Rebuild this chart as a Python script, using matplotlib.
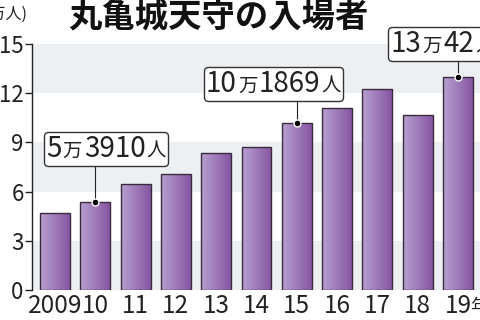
import matplotlib
matplotlib.use("Agg")
import matplotlib.pyplot as plt
import numpy as np
from matplotlib.colors import LinearSegmentedColormap
from matplotlib.offsetbox import TextArea, HPacker, AnnotationBbox

plt.rcParams['font.family'] = ['Noto Sans CJK JP', 'DejaVu Sans']

years = ["2009", "10", "11", "12", "13", "14", "15", "16", "17", "18", "19"]
visitors = [4.68, 5.391, 6.48, 7.1, 8.35, 8.75, 10.1869, 11.07, 12.28, 10.7, 13.0042]
yticks = [0, 3, 6, 9, 12, 15]
callouts = [  # (index, big1, small1, big2, small2, box x, box y)
    (1, "5", "万", "3910", "人", 1.27, 8.6),
    (6, "10", "万", "1869", "人", 5.42, 12.56),
    (10, "13", "万", "42", "人", 9.62, 15.0),
]
title = "丸亀城天守の入場者"
unit = "(万人)"

fig = plt.figure(figsize=(4.8, 3.2), dpi=100)
ax = fig.add_axes([32/480, 30/320, 1 - 32/480, (290-44)/320])

x = np.arange(len(years))
xl = (-0.571, 10.546)

# background bands
for lo in (0, 6, 12):
    ax.axhspan(lo, lo + 3, color='#edf0f3', zorder=0, lw=0)

cmap = LinearSegmentedColormap.from_list('g', ['#b7a0d0', '#8656a2'])
grad = np.linspace(0, 1, 64).reshape(1, -1)
bars = ax.bar(x, visitors, width=0.74, facecolor='none', edgecolor='#3a2a3e',
              linewidth=1.0, zorder=3)
for b in bars:
    x0, w, h = b.get_x(), b.get_width(), b.get_height()
    im = ax.imshow(grad, extent=[x0, x0 + w, 0, h], aspect='auto', cmap=cmap,
                   zorder=2, interpolation='bilinear')
    im.set_clip_path(b)

ax.set_xlim(*xl)
ax.set_ylim(0, 15)

# callouts
for idx, b1, s1, b2, s2, bx, by in callouts:
    v = visitors[idx]
    ax.plot([idx, idx], [v, by], color='#222222', lw=0.8, zorder=4, clip_on=False)
    ax.plot(idx, v, 'o', ms=5, mfc='black', mec='white', mew=1.0, zorder=6, clip_on=False)
    big = dict(fontsize=20, color='#222222')
    small = dict(fontsize=14, color='#222222')
    parts = [TextArea(b1, textprops=big), TextArea(s1, textprops=small),
             TextArea(b2, textprops=big), TextArea(s2, textprops=small)]
    pack = HPacker(children=parts, align='baseline', pad=0, sep=1)
    ab = AnnotationBbox(pack, (bx, by), xycoords='data', frameon=True,
                        box_alignment=(0.5, 0.5), pad=0.15, zorder=7,
                        annotation_clip=False,
                        bboxprops=dict(boxstyle='round,pad=0.15,rounding_size=0.3',
                                       fc='white', ec='#333333', lw=1.0))
    ax.add_artist(ab)

# axes styling
for s in ('top', 'right', 'bottom'):
    ax.spines[s].set_visible(False)
ax.spines['left'].set_color('#222222')
ax.spines['left'].set_linewidth(1.0)
ax.set_yticks(yticks)
ax.set_yticklabels([str(t) for t in yticks])
ax.tick_params(axis='y', length=5, width=1.0, color='#222222', pad=1,
               labelsize=16, labelcolor='#222222')
ax.set_xticks(x)
ax.set_xticklabels(years)
ax.tick_params(axis='x', length=0, pad=2, labelsize=17.5, labelcolor='#222222')

# 年 suffix
ax.annotate("年", xy=(x[-1], 0), xycoords='data', xytext=(8.5, -6),
            textcoords='offset points', ha='left', va='top', fontsize=13,
            color='#222222', annotation_clip=False)

fig.text(218/480, 1 - 18/320, title, ha='center', va='center', fontsize=24,
         fontweight='bold', color='#111111')
fig.text(28/480, 1 - 14/320, unit, ha='right', va='center', fontsize=11.5,
         color='#222222')

fig.savefig('out.png', dpi=100)
